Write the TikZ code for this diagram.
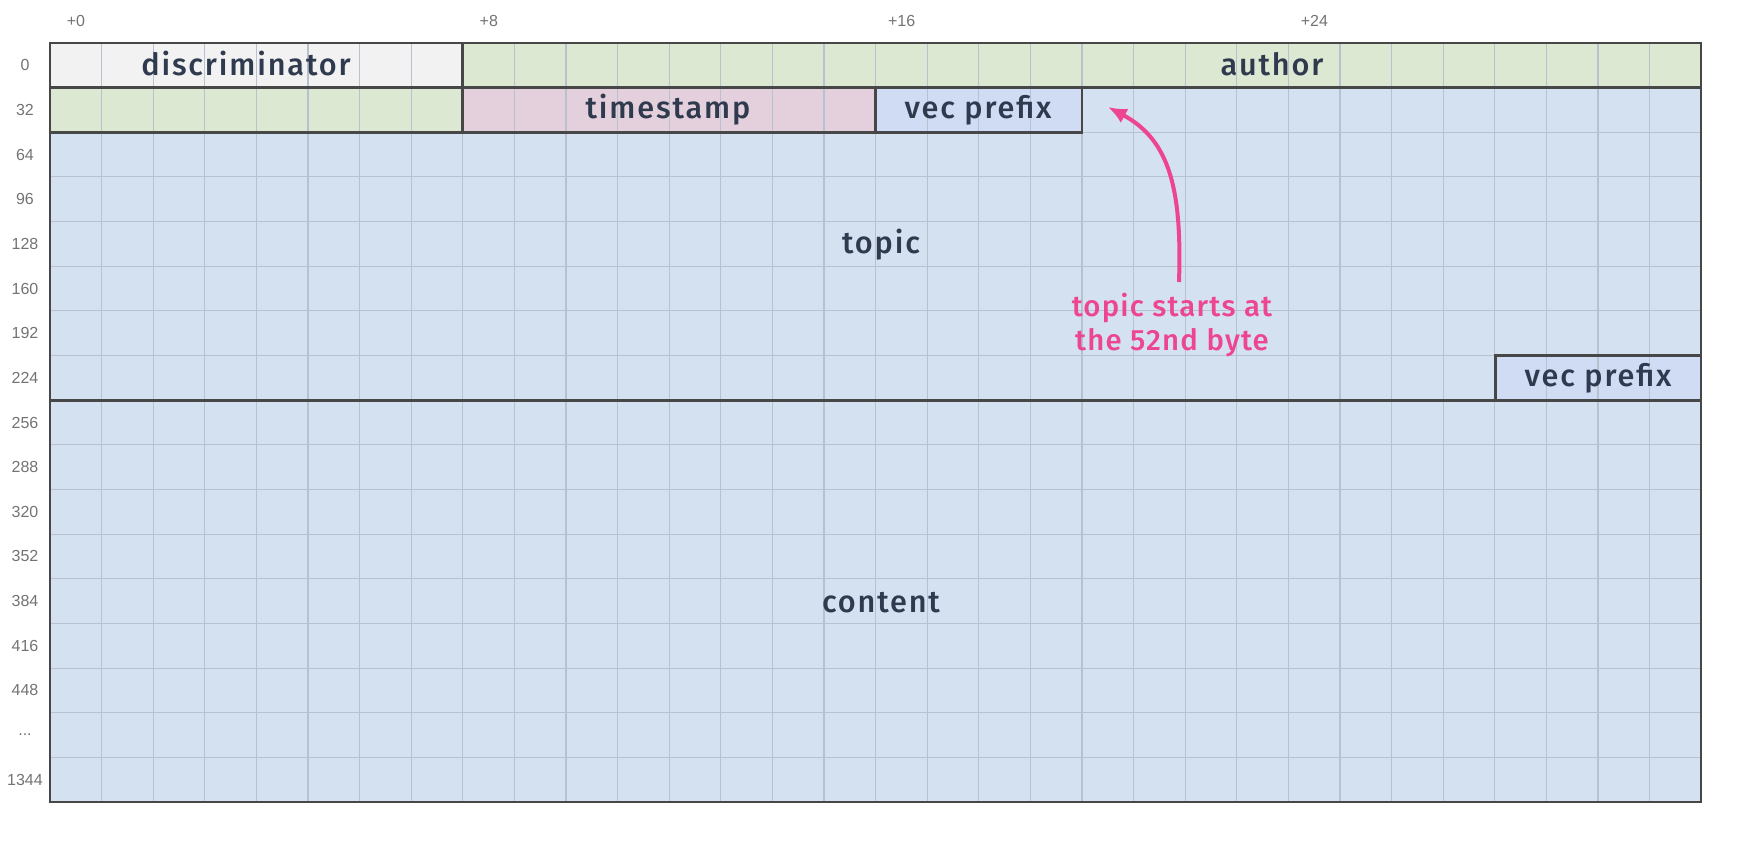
\documentclass[tikz,border=0pt]{standalone}
\usepackage{fontspec}
\usetikzlibrary{arrows.meta}
\setmainfont{Fira Sans}[UprightFont=* Medium]
\newfontfamily\lab{Liberation Sans}
\begin{document}
\begin{tikzpicture}[x=0.75pt,y=-0.75pt,
  thick outline/.style={draw=black!72,line width=2.2pt},
  field/.style={font=\fontsize{23}{26}\selectfont\addfontfeature{LetterSpace=6}, text=ctext},
  axis/.style={font=\lab\fontsize{12}{14}\selectfont, text=black!55},
]
\useasboundingbox (0,0) rectangle (1755,847);
\definecolor{ctext}{HTML}{2F3A4F}
\definecolor{cblue}{HTML}{D4E1F1}
\definecolor{cgreen}{HTML}{DDE8D3}
\definecolor{cpink}{HTML}{E3D0DC}
\definecolor{cgray}{HTML}{F2F2F2}
\definecolor{cvec}{HTML}{CFDCF4}
\definecolor{cgrid}{HTML}{B8C2CF}
\definecolor{cpinkarrow}{HTML}{EE4590}
% fills
\fill[cblue] (50,43) rectangle (1701,802);
\fill[cgray] (50,43) rectangle (462.8,87.65);
\fill[cgreen] (462.8,43) rectangle (1701,87.65);
\fill[cgreen] (50,87.65) rectangle (462.8,132.3);
\fill[cpink] (462.8,87.65) rectangle (875.6,132.3);
\fill[cvec] (875.6,87.65) rectangle (1082,132.3);
\fill[cvec] (1495.4,355.55) rectangle (1701,400.2);
% grid
\foreach \c in {1,...,31} \draw[cgrid,line width=0.8pt] ({50+51.6*\c},43) -- ({50+51.6*\c},802);
\foreach \r in {1,...,16} \draw[cgrid,line width=0.8pt] (50,{43+44.65*\r}) -- (1701,{43+44.65*\r});
% outlines
\draw[thick outline] (50,43) rectangle (462.8,87.65);
\draw[thick outline] (462.8,43) -- (1701,43) -- (1701,87.65) -- (462.8,87.65) -- (462.8,132.3) -- (50,132.3) -- (50,87.65);
\draw[thick outline] (462.8,87.65) rectangle (875.6,132.3);
\draw[thick outline] (875.6,87.65) rectangle (1082,132.3);
\draw[thick outline] (1495.4,355.55) rectangle (1701,400.2);
\draw[thick outline] (50,400.2) -- (1701,400.2);
\draw[thick outline] (50,43) rectangle (1701,802);
% labels
\node[field] (disc) at (246,64) {discriminator};
\node[field] (auth) at (1272,64) {author};
\node[field] (ts) at (668,110) {timestamp};
\node[field] (vp1) at (978,110) {vec prefix};
\node[field] (topic) at (881,245) {topic};
\node[field] (vp2) at (1598,378) {vec prefix};
\node[field] (content) at (881,603) {content};
% axis
\foreach \c/\t in {0/+0,8/+8,16/+16,24/+24} \node[axis] at ({50+51.6*\c+26},21) {\t};
\foreach \r/\t in {0/0,1/32,2/64,3/96,4/128,5/160,6/192,7/224,8/256,9/288,10/320,11/352,12/384,13/416,14/448,15/{...},16/1344}
  \node[axis] (r\r) at (25,{43+44.65*\r+22.3}) {\t};
% annotation
\node[font=\fontsize{22}{25}\selectfont\addfontfeature{LetterSpace=4},text=cpinkarrow,align=center] (note) at (1172,325) {topic starts at\\the 52nd byte};
\coordinate (tip) at (1108,107);
\draw[cpinkarrow,line width=3pt,-{Latex[length=14pt,width=12pt]}] (1179,282) .. controls (1182,190) and (1170,140) .. (tip);
\end{tikzpicture}
\end{document}
